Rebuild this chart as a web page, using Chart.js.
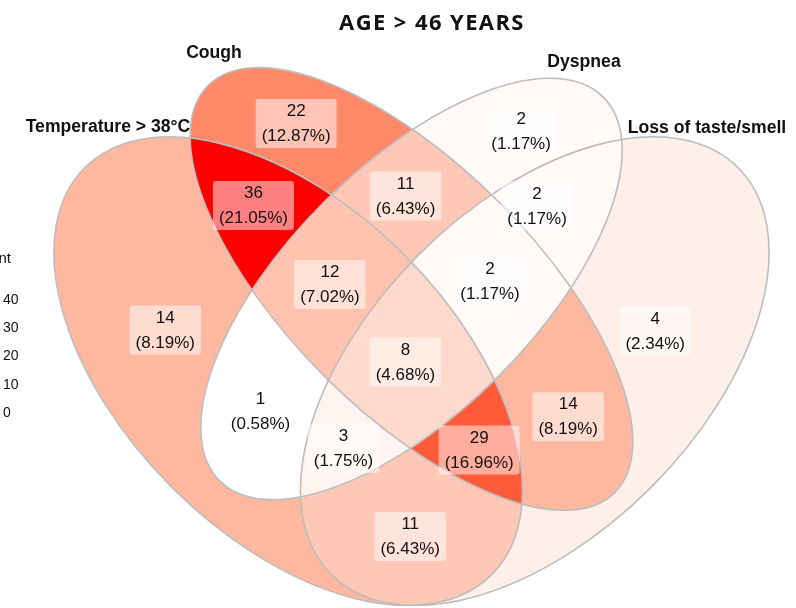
<!DOCTYPE html>
<html>
<head>
<meta charset="utf-8">
<script src="https://cdn.jsdelivr.net/npm/chart.js@4.4.0/dist/chart.umd.min.js"></script>
<style>
  html, body { margin: 0; padding: 0; background: #fff; }
</style>
</head>
<body>
<canvas id="venn" width="796" height="608"></canvas>
<script>
// Symptom overlap, patients older than 46
const chartTitle = 'AGE > 46 YEARS';
const setNames = ['Temperature > 38°C', 'Cough', 'Dyspnea', 'Loss of taste/smell'];
// each region = list of set indices it belongs to (and no others)
const regionSets = [[0], [1], [2], [3], [0, 1], [0, 2], [0, 3], [1, 2], [1, 3], [2, 3],
                    [0, 1, 2], [0, 1, 3], [0, 2, 3], [1, 2, 3], [0, 1, 2, 3]];
const regionCounts = [14, 22, 2, 4, 36, 1, 11, 11, 14, 2, 12, 29, 3, 2, 8];
const legendTitle = 'count';
const legendTicks = [40, 30, 20, 10, 0];

// 4-set ellipse layout (unit square, y up, rotation in degrees)
const ellipses = [
    { x: 0.35, y: 0.47, a: 0.35, b: 0.20, rot: 135 },
    { x: 0.50, y: 0.57, a: 0.35, b: 0.15, rot: 135 },
    { x: 0.50, y: 0.57, a: 0.33, b: 0.15, rot: 45 },
    { x: 0.65, y: 0.47, a: 0.35, b: 0.20, rot: 45 }
];
const setLabelPos = [[108, 132], [214, 58], [584, 67], [707, 133]];
// small pixel nudges of the count labels away from the region centroid
const labelNudge = [[0, -1], [1, 0], [0, 3], [-5, 9], [1, 2], [1, 4], [0, 4], [-6, 3],
                    [0, 3], [-30, 2], [1, 3], [0, 3], [0, 4], [-4, 0], [-6, 0]];

const total = regionCounts.reduce((s, v) => s + v, 0);
const cMin = Math.min(...regionCounts), cMax = Math.max(...regionCounts);

// --- colour scale: white -> red, interpolated in CIE Lab (like ggplot) ---
function toLin(c) { c /= 255; return c <= 0.04045 ? c / 12.92 : Math.pow((c + 0.055) / 1.055, 2.4); }
function fromLin(c) {
    c = Math.min(1, Math.max(0, c));
    return Math.round(255 * (c <= 0.0031308 ? 12.92 * c : 1.055 * Math.pow(c, 1 / 2.4) - 0.055));
}
function rgbToLab(rgb) {
    const r = toLin(rgb[0]), g = toLin(rgb[1]), b = toLin(rgb[2]);
    const X = (0.4124 * r + 0.3576 * g + 0.1805 * b) / 0.95047;
    const Y = (0.2126 * r + 0.7152 * g + 0.0722 * b);
    const Z = (0.0193 * r + 0.1192 * g + 0.9505 * b) / 1.08883;
    const f = t => t > 0.008856 ? Math.cbrt(t) : 7.787 * t + 16 / 116;
    const fx = f(X), fy = f(Y), fz = f(Z);
    return [116 * fy - 16, 500 * (fx - fy), 200 * (fy - fz)];
}
function labToRgb(lab) {
    const fy = (lab[0] + 16) / 116, fx = fy + lab[1] / 500, fz = fy - lab[2] / 200;
    const fi = t => t > 0.206893 ? t * t * t : (t - 16 / 116) / 7.787;
    const X = fi(fx) * 0.95047, Y = fi(fy), Z = fi(fz) * 1.08883;
    const r = 3.2406 * X - 1.5372 * Y - 0.4986 * Z;
    const g = -0.9689 * X + 1.8758 * Y + 0.0415 * Z;
    const b = 0.0557 * X - 0.2040 * Y + 1.0570 * Z;
    return 'rgb(' + fromLin(r) + ',' + fromLin(g) + ',' + fromLin(b) + ')';
}
const labLow = rgbToLab([255, 255, 255]), labHigh = rgbToLab([255, 0, 0]);
function fillFor(v) {
    const t = (v - cMin) / (cMax - cMin);
    return labToRgb(labLow.map((l, i) => l + (labHigh[i] - l) * t));
}

// --- region geometry ---
function inside(e, px, py) {
    const th = e.rot * Math.PI / 180;
    const dx = px - e.x, dy = py - e.y;
    const u = dx * Math.cos(th) + dy * Math.sin(th);
    const w = -dx * Math.sin(th) + dy * Math.cos(th);
    return (u * u) / (e.a * e.a) + (w * w) / (e.b * e.b) <= 1;
}
function regionIndex(px, py) {
    let key = [];
    ellipses.forEach((e, i) => { if (inside(e, px, py)) key.push(i); });
    if (!key.length) return -1;
    return regionSets.findIndex(s => s.join() === key.join());
}
// label anchor = area centroid of every region (grid sampling)
const sums = regionSets.map(() => [0, 0, 0]);
for (let gx = 0; gx <= 1; gx += 0.0025) {
    for (let gy = 0; gy <= 1; gy += 0.0025) {
        const r = regionIndex(gx, gy);
        if (r >= 0) { sums[r][0] += gx; sums[r][1] += gy; sums[r][2]++; }
    }
}
const centroids = sums.map((s, i) => ({ x: s[0] / s[2], y: s[1] / s[2], count: regionCounts[i] }));

function ellipsePath(chart, e) {
    const xs = chart.scales.x, ys = chart.scales.y;
    const p = new Path2D();
    p.ellipse(xs.getPixelForValue(e.x), ys.getPixelForValue(e.y),
        Math.abs(xs.getPixelForValue(e.x + e.a) - xs.getPixelForValue(e.x)),
        Math.abs(ys.getPixelForValue(e.y + e.b) - ys.getPixelForValue(e.y)),
        -e.rot * Math.PI / 180, 0, Math.PI * 2);
    return p;
}

const vennPlugin = {
    id: 'venn',
    beforeDatasetsDraw(chart) {
        const ctx = chart.ctx;
        const paths = ellipses.map(e => ellipsePath(chart, e));
        // region fills
        regionSets.forEach((set, r) => {
            ctx.save();
            paths.forEach((p, i) => {
                if (set.includes(i)) {
                    ctx.clip(p);
                } else {
                    const outside = new Path2D();
                    outside.rect(0, 0, chart.width, chart.height);
                    outside.addPath(p);
                    ctx.clip(outside, 'evenodd');
                }
            });
            ctx.fillStyle = fillFor(regionCounts[r]);
            ctx.fillRect(0, 0, chart.width, chart.height);
            ctx.restore();
        });
        // outlines
        ctx.save();
        ctx.strokeStyle = '#bdbdbd';
        ctx.lineWidth = 1.6;
        paths.forEach(p => ctx.stroke(p));
        ctx.restore();
    },
    afterDatasetsDraw(chart) {
        const ctx = chart.ctx;
        const meta = chart.getDatasetMeta(0);
        ctx.save();
        ctx.font = '17px "Liberation Sans", Arial, sans-serif';
        ctx.textAlign = 'center';
        ctx.textBaseline = 'middle';
        meta.data.forEach((pt, i) => {
            const v = regionCounts[i];
            const cx = pt.x + labelNudge[i][0], cy = pt.y + labelNudge[i][1];
            const l1 = String(v), l2 = '(' + (v / total * 100).toFixed(2) + '%)';
            const w = Math.max(ctx.measureText(l1).width, ctx.measureText(l2).width) + 12;
            const h = 49;
            ctx.fillStyle = 'rgba(255,255,255,0.5)';
            ctx.beginPath();
            ctx.roundRect(cx - w / 2, cy - h / 2, w, h, 3);
            ctx.fill();
            ctx.fillStyle = '#111';
            ctx.fillText(l1, cx, cy - 12);
            ctx.fillText(l2, cx, cy + 13);
        });
        // set names
        ctx.font = 'bold 17.6px "Liberation Sans", Arial, sans-serif';
        ctx.textBaseline = 'alphabetic';
        setNames.forEach((n, i) => ctx.fillText(n, setLabelPos[i][0], setLabelPos[i][1]));
        // title
        ctx.font = 'bold 22px "Open Sans", Lato, sans-serif';
        ctx.letterSpacing = '1.4px';
        ctx.fillText(chartTitle, 432, 30);
        ctx.letterSpacing = '0px';
        // legend (colour bar sits off the left edge)
        ctx.textAlign = 'right';
        ctx.font = '15px "Liberation Sans", Arial, sans-serif';
        ctx.fillText(legendTitle, 11, 263);
        ctx.textAlign = 'left';
        ctx.textBaseline = 'middle';
        ctx.font = '14px "Liberation Sans", Arial, sans-serif';
        legendTicks.forEach(t => ctx.fillText(String(t), 3, 413 - t * 2.82));
        ctx.restore();
    }
};

new Chart(document.getElementById('venn'), {
    type: 'scatter',
    data: {
        datasets: [{
            data: centroids,
            pointRadius: 0,
            pointHoverRadius: 0
        }]
    },
    options: {
        responsive: false,
        animation: false,
        events: [],
        layout: { padding: 0 },
        plugins: {
            legend: { display: false },
            title: { display: false },
            tooltip: { enabled: false }
        },
        scales: {
            x: { type: 'linear', display: false, min: -0.0006, max: 0.9678 },
            y: { type: 'linear', display: false, min: 0.1819, max: 0.9215 }
        }
    },
    plugins: [vennPlugin]
});
</script>
</body>
</html>
